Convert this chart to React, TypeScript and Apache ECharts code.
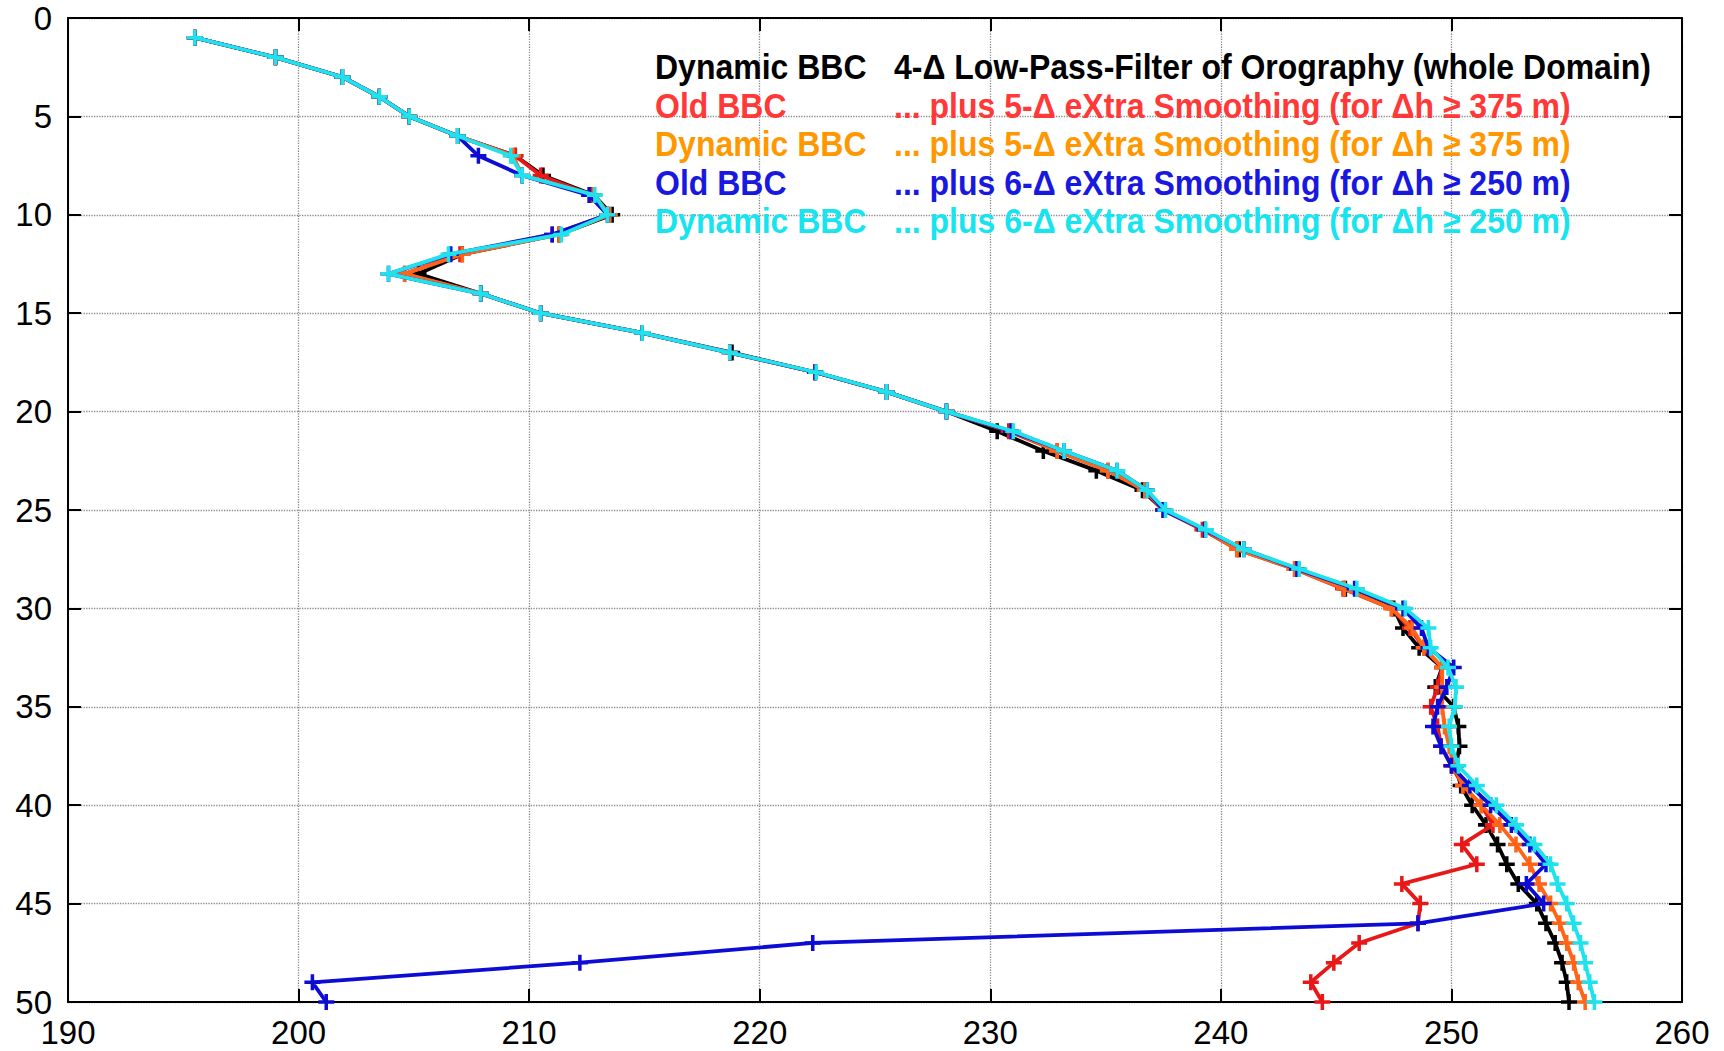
import React, { useEffect, useRef } from "react";
import * as echarts from "echarts";

// model levels (vertical axis, inverted)
const levels = [1,2,3,4,5,6,7,8,9,10,11,12,13,14,15,16,17,18,19,20,21,22,23,24,25,26,27,28,29,30,31,32,33,34,35,36,37,38,39,40,41,42,43,44,45,46,47,48,49,50];

const blackVals = [195.5,199.0,201.9,203.5,204.8,206.9,209.4,210.6,212.8,213.6,211.3,207.1,205.2,207.9,210.5,214.9,218.8,222.4,225.5,228.1,230.3,232.3,234.6,236.6,237.5,239.3,240.8,243.3,245.4,247.5,247.9,248.6,249.6,249.3,250.1,250.3,250.35,250.2,250.4,250.9,251.5,252.0,252.4,252.9,253.7,254.1,254.5,254.8,255.0,255.1];
const redVals = [195.5,199.0,201.9,203.5,204.8,206.9,209.4,210.5,212.7,213.4,211.0,207.0,204.6,207.9,210.5,214.9,218.7,222.4,225.5,228.1,230.8,232.9,235.1,236.7,237.5,239.2,240.7,243.2,245.3,247.4,248.2,248.8,249.6,249.4,249.1,249.4,249.55,250.0,250.5,251.3,251.8,250.45,251.1,247.85,248.65,248.55,246.0,244.9,243.9,244.4];
const orangeVals = [195.5,199.0,201.9,203.5,204.8,206.9,209.3,209.7,212.8,213.5,211.3,207.1,204.6,207.9,210.5,214.9,218.7,222.4,225.5,228.1,230.9,232.9,235.1,236.7,237.5,239.3,240.7,243.2,245.35,247.4,248.3,248.8,249.6,249.6,249.6,249.7,249.9,250.1,250.5,251.3,252.1,252.8,253.4,253.8,254.3,254.7,255.0,255.3,255.5,255.8];
const blueVals = [195.5,199.0,201.9,203.5,204.8,206.9,207.8,209.7,212.6,213.4,211.0,206.6,203.9,207.9,210.5,214.9,218.7,222.4,225.5,228.1,230.9,233.2,235.5,236.8,237.5,239.3,241.0,243.3,245.8,247.9,248.7,249.0,250.1,249.8,249.4,249.2,249.55,250.0,250.8,251.7,252.6,253.4,254.1,253.25,254.0,248.55,222.3,212.2,200.6,201.2];
const cyanVals = [195.5,199.0,201.9,203.5,204.8,206.9,209.2,209.7,212.85,213.4,211.4,206.5,203.9,207.9,210.5,214.9,218.7,222.45,225.5,228.1,231.0,233.2,235.5,236.8,237.6,239.35,241.0,243.4,245.9,248.0,249.0,249.1,249.85,250.2,250.15,249.9,250.0,250.3,251.1,251.95,252.8,253.6,254.3,254.6,255.0,255.3,255.6,255.8,256.0,256.2];

const seriesNames = ["Dynamic BBC", "Old BBC", "Dynamic BBC", "Old BBC", "Dynamic BBC"];
const seriesDescs = [
  "4-\u0394 Low-Pass-Filter of Orography (whole Domain)",
  "... plus 5-\u0394 eXtra Smoothing (for \u0394h \u2265 375 m)",
  "... plus 5-\u0394 eXtra Smoothing (for \u0394h \u2265 375 m)",
  "... plus 6-\u0394 eXtra Smoothing (for \u0394h \u2265 250 m)",
  "... plus 6-\u0394 eXtra Smoothing (for \u0394h \u2265 250 m)",
];
const allVals = [blackVals, redVals, orangeVals, blueVals, cyanVals];
const lineColors = ["#000000", "#e81818", "#ff6418", "#0c0cd4", "#20e2ec"];
const textColors = ["#000000", "#ff3838", "#ff9800", "#1818e0", "#18e4f0"];

const xMin = 190, xMax = 260, xStep = 10;
const yMin = 0, yMax = 50, yStep = 5;

const plusPath = "path://M3.9,0H6.1V3.9H10V6.1H6.1V10H3.9V6.1H0V3.9H3.9Z";
const FONT = "'Liberation Sans', Arial, Helvetica, sans-serif";

export default function App() {
  const ref = useRef<HTMLDivElement>(null);
  useEffect(() => {
    if (!ref.current) return;
    const chart = echarts.init(ref.current, null, { renderer: "svg" });
    const axisLineStyle = { color: "#000", width: 2 };
    const tick = { inside: true, length: 13, lineStyle: { color: "#000", width: 2 } };
    const grid = { show: true, lineStyle: { type: "dotted" as const, color: "#8a8a8a", width: 1.3 } };
    const rowY = [67, 105.5, 144, 182.5, 221];
    const graphics: any[] = [];
    seriesNames.forEach((n, i) => {
      graphics.push({
        type: "text", x: 655, y: rowY[i], scaleY: 1.1, z: 100,
        style: { text: n, fill: textColors[i], font: `bold 32px ${FONT}`, verticalAlign: "middle", textVerticalAlign: "middle" },
      });
      graphics.push({
        type: "text", x: 894, y: rowY[i], scaleY: 1.1, z: 100,
        style: { text: seriesDescs[i], fill: textColors[i], font: `bold 32px ${FONT}`, verticalAlign: "middle", textVerticalAlign: "middle" },
      });
    });
    chart.setOption({
      animation: false,
      backgroundColor: "#ffffff",
      grid: { left: 68, right: 42, top: 18, bottom: 49, containLabel: false },
      xAxis: [
        {
          type: "value", min: xMin, max: xMax, interval: xStep, position: "bottom",
          axisLine: { show: true, onZero: false, lineStyle: axisLineStyle },
          axisTick: tick,
          axisLabel: { fontSize: 33, color: "#000", margin: 14, fontFamily: FONT },
          splitLine: grid,
        },
        {
          type: "value", min: xMin, max: xMax, interval: xStep, position: "top",
          axisLine: { show: true, onZero: false, lineStyle: axisLineStyle },
          axisTick: tick, axisLabel: { show: false }, splitLine: { show: false },
        },
      ],
      yAxis: [
        {
          type: "value", min: yMin, max: yMax, interval: yStep, inverse: true, position: "left",
          axisLine: { show: true, onZero: false, lineStyle: axisLineStyle },
          axisTick: tick,
          axisLabel: { fontSize: 33, color: "#000", margin: 16, fontFamily: FONT },
          splitLine: grid,
        },
        {
          type: "value", min: yMin, max: yMax, interval: yStep, inverse: true, position: "right",
          axisLine: { show: true, onZero: false, lineStyle: axisLineStyle },
          axisTick: tick, axisLabel: { show: false }, splitLine: { show: false },
        },
      ],
      series: allVals.map((vals, i) => ({
        type: "line",
        name: seriesNames[i] + " " + seriesDescs[i],
        xAxisIndex: 0,
        yAxisIndex: 0,
        data: levels.map((l, k) => [vals[k], l]),
        symbol: plusPath,
        symbolSize: 16,
        showAllSymbol: true,
        lineStyle: { color: lineColors[i], width: 3.8 },
        itemStyle: { color: lineColors[i] },
        z: 2 + i,
      })),
      graphic: graphics,
    });
    return () => chart.dispose();
  }, []);
  return (
    <div
      ref={ref}
      style={{ position: "fixed", left: 0, top: 0, width: 1724, height: 1051, background: "#fff" }}
    />
  );
}
